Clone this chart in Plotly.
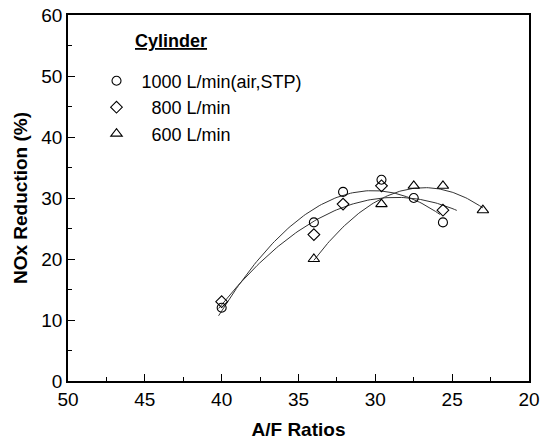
import numpy as np
import plotly.graph_objects as go

# Data
x_1000 = [40.0, 34.0, 32.1, 29.6, 27.5, 25.6]
y_1000 = [12, 26, 31, 33, 30, 26]
x_800 = [40.0, 34.0, 32.1, 29.6, 25.6]
y_800 = [13, 24, 29, 32, 28]
x_600 = [34.0, 29.6, 27.5, 25.6, 23.0]
y_600 = [20, 29, 32, 32, 28]

# fit-line x extents
fit_range_1000 = (40.2, 25.8)
fit_range_800 = (40.2, 24.7)
fit_range_600 = (34.0, 23.0)

names = ["1000 L/min(air,STP)", "  800 L/min", "  600 L/min"]
symbols = ["circle-open", "diamond-open", "triangle-up-open"]
x_ticks = [50, 45, 40, 35, 30, 25, 20]
y_ticks = [0, 10, 20, 30, 40, 50, 60]

FONT = "Liberation Sans, Arial, sans-serif"
fig = go.Figure()

series = [(x_1000, y_1000, fit_range_1000), (x_800, y_800, fit_range_800), (x_600, y_600, fit_range_600)]
for (xs, ys, rng) in series:
    c = np.polyfit(xs, ys, 2)
    xf = np.linspace(rng[0], rng[1], 100)
    fig.add_trace(go.Scatter(x=xf, y=np.polyval(c, xf), mode="lines",
                             line=dict(color="#333333", width=1), showlegend=False, hoverinfo="skip"))

sizes = [9, 9, 10]
for (xs, ys, _), nm, sym, sz in zip(series, names, symbols, sizes):
    fig.add_trace(go.Scatter(x=xs, y=ys, mode="markers", name=nm,
                             marker=dict(symbol=sym, size=sz, color="black", line=dict(width=1.1, color="black"))))

fig.update_layout(
    width=545, height=442,
    margin=dict(l=68, r=16, t=15, b=61, autoexpand=False),
    paper_bgcolor="white", plot_bgcolor="white",
    font=dict(family=FONT, color="black", size=18),
    showlegend=True,
    legend=dict(x=0.051, y=0.87, xanchor="left", yanchor="top", bgcolor="rgba(0,0,0,0)",
                font=dict(size=18, family=FONT), tracegroupgap=0, itemwidth=40),
    annotations=[dict(text="<b><u>Cylinder</u></b>", x=0.141, y=0.928, xref="paper", yref="paper",
                      xanchor="left", yanchor="middle", showarrow=False, font=dict(size=18, family=FONT))],
)
fig.update_xaxes(range=[50, 20], tickvals=x_ticks, ticks="inside", ticklen=7, tickwidth=1.3,
                 minor=dict(ticks="inside", ticklen=4, dtick=2.5, tickwidth=1.3, tickcolor="black"),
                 showline=True, linecolor="black", linewidth=1.5, mirror=True, showgrid=False, zeroline=False,
                 tickfont=dict(size=19), tickcolor="black", automargin=False,
                 title=dict(text="<b>A/F Ratios</b>", font=dict(size=19), standoff=14))
fig.update_yaxes(range=[0, 60], tickvals=y_ticks, ticks="inside", ticklen=7, tickwidth=1.3,
                 minor=dict(ticks="inside", ticklen=4, dtick=5, tickwidth=1.3, tickcolor="black"),
                 showline=True, linecolor="black", linewidth=1.5, mirror=True, showgrid=False, zeroline=False,
                 tickfont=dict(size=19), tickcolor="black", automargin=False,
                 title=dict(text="<b>NOx Reduction (%)</b>", font=dict(size=19), standoff=9))
fig.write_html("out.html")
